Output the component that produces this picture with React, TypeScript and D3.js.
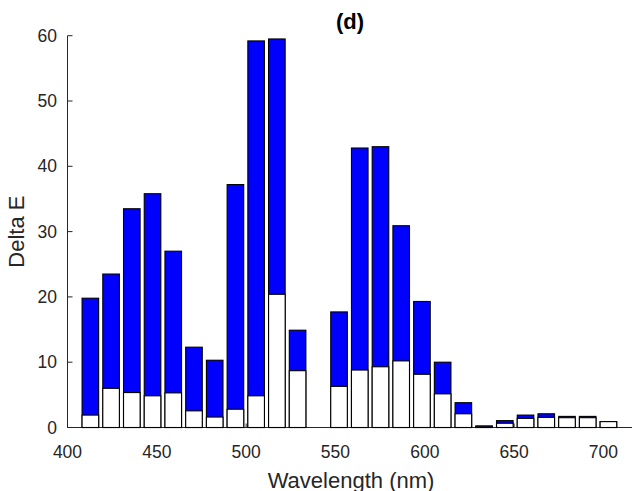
import React from 'react';
import * as d3 from 'd3';

// Band centre wavelengths (nm); the slot at 540.4 nm has no bar
const wavelengths = [412.8, 424.4, 436.0, 447.6, 459.2, 470.8, 482.4, 494.0, 505.6, 517.2, 528.8, 540.4, 552.0, 563.6, 575.2, 586.8, 598.4, 610.0, 621.6, 633.2, 644.8, 656.4, 668.0, 679.6, 691.2, 702.8];
// Blue bars (larger Delta E)
const totalDeltaE: (number | null)[] = [19.8, 23.5, 33.5, 35.8, 27.0, 12.3, 10.3, 37.2, 59.2, 59.5, 14.9, null, 17.7, 42.8, 43.0, 30.9, 19.3, 10.0, 3.8, 0.25, 1.05, 1.9, 2.1, 1.7, 1.7, 0.9];
// White bars (smaller Delta E)
const residualDeltaE: (number | null)[] = [1.9, 6.0, 5.35, 4.85, 5.3, 2.55, 1.6, 2.8, 4.85, 20.4, 8.7, null, 6.3, 8.8, 9.3, 10.2, 8.15, 5.15, 2.1, 0.12, 0.65, 1.4, 1.55, 1.5, 1.5, 0.9];

const xTicks = [400, 450, 500, 550, 600, 650, 700];
const yTicks = [0, 10, 20, 30, 40, 50, 60];
const titleText = '(d)';
const xLabel = 'Wavelength (nm)';
const yLabel = 'Delta E';

export default function App() {
  const W = 632;
  const H = 491;
  const x = d3.scaleLinear().domain([400, 716]).range([67.5, 632]);
  const y = d3.scaleLinear().domain([0, 60]).range([427.5, 35.7]);
  const step = wavelengths[1] - wavelengths[0];
  const bw = (x(400 + step) - x(400)) * 0.8;
  const axisColor = '#262626';
  const font = '"Liberation Sans", Arial, Helvetica, sans-serif';

  const bars = (vals: (number | null)[], fill: string, key: string) =>
    vals.map((v, i) =>
      v == null ? null : (
        <rect
          key={key + i}
          x={x(wavelengths[i]) - bw / 2}
          y={y(v)}
          width={bw}
          height={y(0) - y(v)}
          fill={fill}
          stroke="#000"
          strokeWidth={1.1}
        />
      )
    );

  return (
    <div style={{ position: 'fixed', left: 0, top: 0 }}>
      <svg width={W} height={H} style={{ display: 'block', background: '#fff' }}>
        {/* axes lines */}
        <line x1={x(400)} x2={W} y1={y(0)} y2={y(0)} stroke={axisColor} strokeWidth={1} />
        <line x1={x(400)} x2={x(400)} y1={y(0)} y2={y(60)} stroke={axisColor} strokeWidth={1} />
        {yTicks.map((t) => (
          <g key={'yt' + t}>
            <line x1={x(400)} x2={x(400) + 5} y1={y(t)} y2={y(t)} stroke={axisColor} strokeWidth={1} />
            <text x={57} y={y(t)} dy="0.35em" textAnchor="end" fontFamily={font} fontSize={17.5} fill={axisColor}>
              {t}
            </text>
          </g>
        ))}
        {xTicks.map((t) => (
          <g key={'xt' + t}>
            <line x1={x(t)} x2={x(t)} y1={y(0)} y2={y(0) - 4} stroke={axisColor} strokeWidth={1} />
            <text x={x(t)} y={457.5} textAnchor="middle" fontFamily={font} fontSize={17.5} fill={axisColor}>
              {t}
            </text>
          </g>
        ))}
        {/* bars */}
        {bars(totalDeltaE, '#0000ff', 'b')}
        {bars(residualDeltaE, '#ffffff', 'w')}
        {/* labels */}
        <text x={351} y={487.5} textAnchor="middle" fontFamily={font} fontSize={22} fill={axisColor}>
          {xLabel}
        </text>
        <text
          transform={`translate(24, ${(y(0) + y(60)) / 2}) rotate(-90)`}
          textAnchor="middle"
          fontFamily={font}
          fontSize={22}
          fill={axisColor}
        >
          {yLabel}
        </text>
        <text x={350} y={28.5} textAnchor="middle" fontFamily={font} fontSize={22} fontWeight="bold" fill="#000">
          {titleText}
        </text>
      </svg>
    </div>
  );
}
